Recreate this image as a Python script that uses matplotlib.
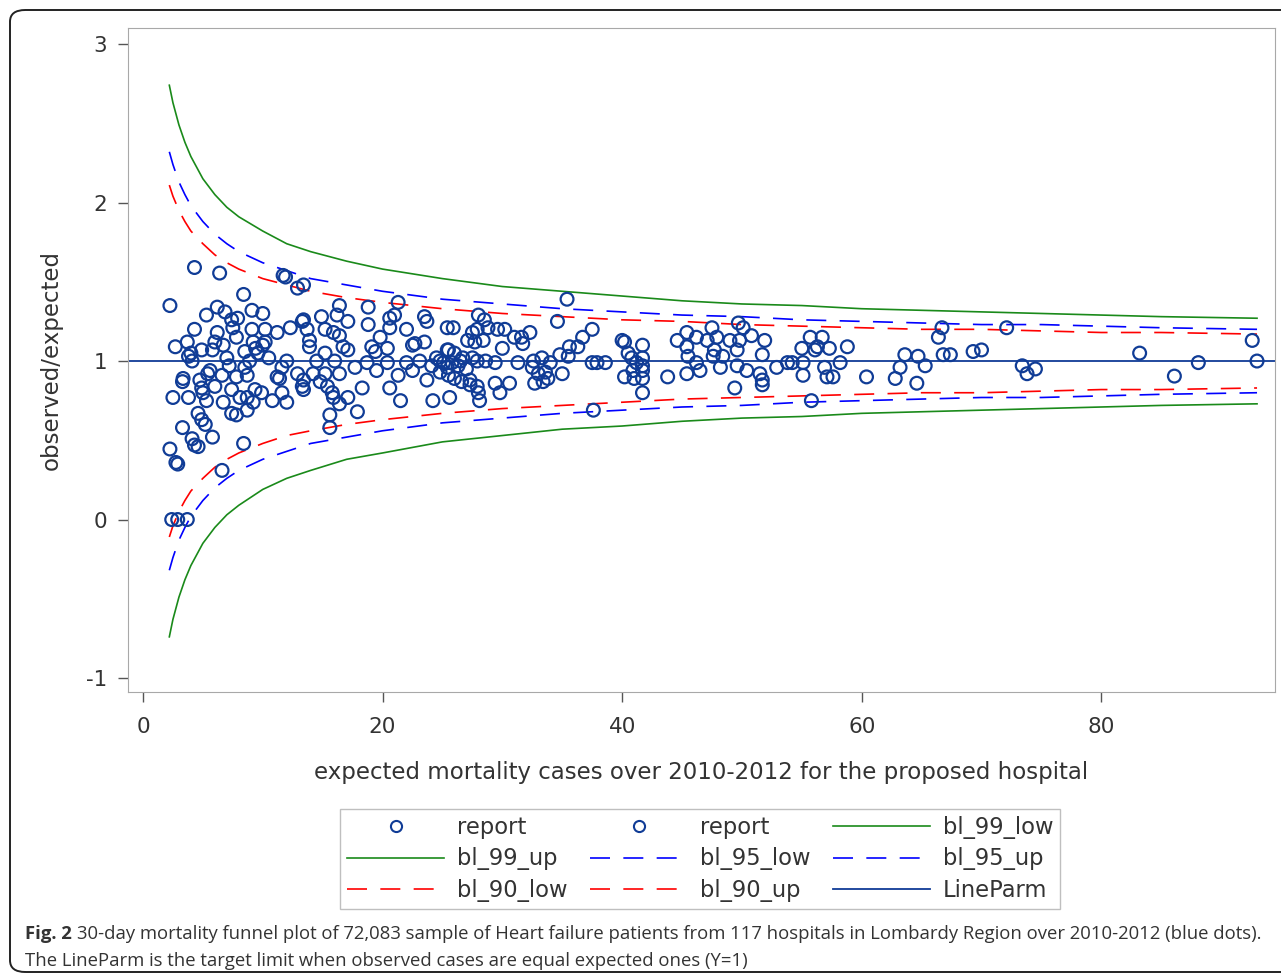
import matplotlib
matplotlib.use("Agg")
import matplotlib.pyplot as plt
from matplotlib.lines import Line2D
from matplotlib.patches import FancyBboxPatch

plt.rcParams["axes.unicode_minus"] = False

# expected cases (x) and observed/expected ratio (y) per point
x_obs = [2.25, 2.25, 2.4, 2.9, 3.7, 2.75, 2.9, 2.5, 2.7, 3.3, 3.35, 3.3, 3.7, 3.8, 4.1, 4.0, 3.8, 4.1, 4.3,
         4.3, 4.3, 4.6, 4.9, 5.2, 4.6, 4.75, 4.9, 5.0, 4.9,
         6.4, 8.4, 5.3, 6.2, 6.85, 7.4, 7.9, 9.1, 10.0, 6.2, 7.5, 9.1, 10.2, 11.2, 12.3, 5.8, 6.0, 6.7, 7.0,
         7.8, 8.5, 9.2, 9.6, 10.0, 10.2, 8.5, 8.7, 11.6, 11.2, 11.4, 12.9, 5.4, 6.6, 7.8, 5.3, 6.0, 6.7, 7.4,
         8.1, 8.7, 9.2, 9.35, 9.9, 10.8, 11.6, 12.0, 7.4, 7.8, 8.7, 5.8, 8.4, 6.6, 11.7, 11.9, 12.9, 13.4,
         5.6, 8.9, 9.4, 7.2, 10.5, 12.0,
         13.3, 13.3, 16.4, 18.8, 21.3, 14.9, 16.2, 17.1, 18.8, 20.6, 21.0, 23.5, 23.7, 13.4, 13.7, 15.2, 15.9,
         16.4, 16.7, 17.1, 19.8, 20.6, 22.0, 22.7, 23.5, 15.2, 13.9, 19.1, 19.4, 20.4, 17.7, 16.4, 15.2, 14.2,
         13.4, 13.4, 14.8, 15.4, 15.8, 15.9, 16.4, 17.1, 18.3, 17.9, 15.6, 15.6, 19.5, 20.6, 21.5, 21.3, 22.5,
         24.2, 23.7, 24.8, 25.1, 25.4, 25.4, 25.4, 22.0, 20.4, 18.7, 22.5, 23.1, 24.1, 24.5, 24.8, 14.5, 16.0,
         13.9,
         35.4, 34.6, 28.0, 28.5, 25.9, 27.5, 27.9, 28.8, 29.6, 30.2, 32.3, 27.1, 27.7, 28.4, 30.0, 31.0, 31.6,
         31.7, 25.5, 26.0, 26.7, 27.5, 27.9, 25.8, 26.3, 29.4, 31.3, 32.6, 33.3, 34.0, 34.8, 35.5, 35.6, 36.3,
         36.7, 37.5, 37.5, 32.5, 33.0, 33.6, 33.8, 32.7, 33.4, 35.0, 25.5, 26.0, 26.6, 27.3, 27.3, 25.6, 27.9,
         28.0, 28.1, 29.4, 29.8, 30.6, 37.6, 26.5, 27.0, 28.6,
         37.9, 38.6, 40.0, 40.2, 41.7, 40.5, 40.8, 41.2, 41.7, 41.7, 40.9, 41.7, 40.2, 41.0, 41.7, 41.7, 43.8,
         44.6, 45.4, 45.4, 46.2, 45.5, 45.4, 46.2, 46.5, 47.1, 47.5, 47.9, 47.7, 47.6, 48.4, 48.2, 49.0, 49.6,
         49.8, 49.7, 50.1, 50.8, 49.6, 50.4, 51.9, 51.7, 51.5, 51.7, 51.7, 52.9, 53.8, 49.4,
         54.2, 55.1, 55.0, 55.7, 56.7, 56.1, 56.3, 57.3, 58.2, 58.8, 56.9, 57.1, 57.6, 55.1, 55.8, 60.4, 62.8,
         63.2, 63.6, 64.7, 65.3, 64.6, 66.7, 66.4, 66.8, 67.4, 69.3, 70.0, 72.1, 73.4, 73.8, 74.5, 83.2, 86.1,
         88.1, 92.6, 93.0]
y_obs = [1.35, 0.445, 0.0, 0.0, 0.0, 0.36, 0.35, 0.77, 1.09, 0.87, 0.89, 0.58, 1.12, 1.03, 1.0, 1.05, 0.77, 0.51, 0.47,
         1.20, 1.59, 0.67, 0.63, 0.60, 0.46, 0.88, 0.83, 0.80, 1.07,
         1.555, 1.42, 1.29, 1.34, 1.31, 1.26, 1.27, 1.32, 1.30, 1.18, 1.21, 1.20, 1.20, 1.18, 1.21, 1.07, 1.12, 1.10, 1.02,
         1.15, 1.06, 1.12, 1.05, 1.10, 1.12, 0.96, 0.91, 0.96, 0.90, 0.89, 0.92, 0.92, 0.91, 0.90, 0.75, 0.84, 0.74, 0.82,
         0.77, 0.77, 0.74, 0.82, 0.80, 0.75, 0.80, 0.74, 0.67, 0.66, 0.69, 0.52, 0.48, 0.31, 1.54, 1.53, 1.46, 1.48,
         0.94, 1.0, 1.08, 0.97, 1.02, 1.0,
         1.25, 0.84, 1.35, 1.34, 1.37, 1.28, 1.29, 1.25, 1.23, 1.27, 1.29, 1.28, 1.25, 1.26, 1.20, 1.20, 1.18,
         1.16, 1.09, 1.07, 1.15, 1.21, 1.20, 1.11, 1.12, 1.05, 1.09, 1.09, 1.06, 1.08, 0.96, 0.92, 0.92, 0.92,
         0.88, 0.82, 0.87, 0.84, 0.80, 0.77, 0.73, 0.77, 0.83, 0.68, 0.66, 0.58, 0.94, 0.83, 0.75, 0.91, 0.94,
         0.75, 0.88, 1.0, 0.99, 0.96, 1.07, 1.21, 0.99, 0.99, 0.99, 1.10, 1.0, 0.97, 1.02, 0.93, 1.0, 1.0,
         1.13,
         1.39, 1.25, 1.29, 1.26, 1.21, 1.18, 1.20, 1.21, 1.20, 1.20, 1.18, 1.13, 1.12, 1.13, 1.08, 1.15, 1.15,
         1.11, 1.07, 1.05, 1.02, 1.02, 1.0, 0.99, 0.97, 0.99, 0.99, 1.0, 1.02, 0.99, 1.04, 1.03, 1.09, 1.09,
         1.15, 1.20, 0.99, 0.96, 0.92, 0.93, 0.89, 0.86, 0.87, 0.92, 0.91, 0.89, 0.87, 0.88, 0.85, 0.77, 0.84,
         0.80, 0.75, 0.86, 0.80, 0.86, 0.69, 1.0, 0.95, 1.0,
         0.99, 0.99, 1.13, 1.12, 1.10, 1.05, 1.02, 0.99, 0.97, 1.02, 0.94, 0.94, 0.90, 0.89, 0.89, 0.80, 0.90,
         1.13, 1.18, 1.09, 1.15, 1.03, 0.92, 0.99, 0.94, 1.13, 1.21, 1.15, 1.07, 1.03, 1.03, 0.96, 1.13, 1.07,
         1.13, 1.24, 1.21, 1.16, 0.97, 0.94, 1.13, 1.04, 0.92, 0.88, 0.85, 0.96, 0.99, 0.83,
         0.99, 0.99, 1.08, 1.15, 1.15, 1.07, 1.09, 1.08, 0.99, 1.09, 0.96, 0.90, 0.90, 0.91, 0.75, 0.90, 0.89,
         0.96, 1.04, 1.03, 0.97, 0.86, 1.21, 1.15, 1.04, 1.04, 1.06, 1.07, 1.21, 0.97, 0.92, 0.95, 1.05, 0.905,
         0.99, 1.13, 1.0]

# control limits
x_lim = [2.2, 2.5, 3, 3.5, 4, 5, 6, 7, 8, 10, 12, 14, 17, 20, 25, 30, 35, 40, 45, 50, 55, 60, 65, 70, 75, 80, 85, 93]
bl_99_up = [2.74, 2.63, 2.49, 2.38, 2.29, 2.15, 2.05, 1.97, 1.91, 1.82, 1.74, 1.69, 1.63, 1.58, 1.52, 1.47, 1.44,
            1.41, 1.38, 1.36, 1.35, 1.33, 1.32, 1.31, 1.30, 1.29, 1.28, 1.27]
bl_99_low = [-0.74, -0.63, -0.49, -0.38, -0.29, -0.15, -0.05, 0.03, 0.09, 0.19, 0.26, 0.31, 0.38, 0.42, 0.49, 0.53,
             0.57, 0.59, 0.62, 0.64, 0.65, 0.67, 0.68, 0.69, 0.70, 0.71, 0.72, 0.73]
bl_95_up = [2.32, 2.24, 2.13, 2.05, 1.98, 1.88, 1.80, 1.74, 1.69, 1.62, 1.57, 1.52, 1.48, 1.44, 1.39, 1.36, 1.33,
            1.31, 1.29, 1.28, 1.26, 1.25, 1.24, 1.23, 1.23, 1.22, 1.21, 1.20]
bl_95_low = [-0.32, -0.24, -0.13, -0.05, 0.02, 0.12, 0.20, 0.26, 0.31, 0.38, 0.43, 0.48, 0.52, 0.56, 0.61, 0.64,
             0.67, 0.69, 0.71, 0.72, 0.74, 0.75, 0.76, 0.77, 0.77, 0.78, 0.79, 0.80]
bl_90_up = [2.11, 2.04, 1.95, 1.88, 1.82, 1.74, 1.67, 1.62, 1.58, 1.52, 1.48, 1.44, 1.40, 1.37, 1.33, 1.30, 1.28,
            1.26, 1.25, 1.23, 1.22, 1.21, 1.20, 1.20, 1.19, 1.18, 1.18, 1.17]
bl_90_low = [-0.11, -0.04, 0.05, 0.12, 0.18, 0.26, 0.33, 0.38, 0.42, 0.48, 0.53, 0.56, 0.60, 0.63, 0.67, 0.70,
             0.72, 0.74, 0.76, 0.77, 0.78, 0.79, 0.80, 0.80, 0.81, 0.82, 0.82, 0.83]
target = 1.0

x_ticks = [0, 20, 40, 60, 80]
y_ticks = [-1, 0, 1, 2, 3]

navy = "#103c96"
green = "#1a8a1a"
txt = "#333333"

fig = plt.figure(figsize=(12.81, 9.76), dpi=100)

# outer rounded card
card = FancyBboxPatch((10 / 1281, 4 / 976), 1300 / 1281, 962 / 976, boxstyle="round,pad=0,rounding_size=0.012",
                      transform=fig.transFigure, fill=False, edgecolor="#222222", linewidth=1.4, clip_on=False)
fig.patches.append(card)

ax = fig.add_axes([128 / 1281, 1 - 692 / 976, (1275 - 128) / 1281, (692 - 28) / 976])

lw = 1.2
ax.plot(x_lim, bl_99_up, color=green, lw=lw)
ax.plot(x_lim, bl_99_low, color=green, lw=lw)
ax.plot(x_lim, bl_95_up, color="#0000ff", lw=lw, dashes=(12, 8))
ax.plot(x_lim, bl_95_low, color="#0000ff", lw=lw, dashes=(12, 8))
ax.plot(x_lim, bl_90_up, color="#ff0000", lw=lw, dashes=(12, 8))
ax.plot(x_lim, bl_90_low, color="#ff0000", lw=lw, dashes=(12, 8))
ax.axhline(target, color=navy, lw=1.3)
ax.scatter(x_obs, y_obs, s=85, facecolors="none", edgecolors=navy, linewidths=1.6, zorder=3)

ax.set_xlim(-1.25, 94.5)
ax.set_ylim(-1.088, 3.101)
ax.set_xticks(x_ticks)
ax.set_yticks(y_ticks)
for s in ax.spines.values():
    s.set_color("#a8a8a8")
ax.tick_params(axis="both", length=7, width=1, color="#555555", labelcolor=txt, labelsize=15.5)
ax.tick_params(axis="x", pad=11)
ax.tick_params(axis="y", pad=8)
ax.set_xlabel("expected mortality cases over 2010-2012 for the proposed hospital", fontsize=16.5, color=txt,
              labelpad=17)
ax.set_ylabel("observed/expected", fontsize=16.5, color=txt, labelpad=17)

# legend (matplotlib fills columns first)
mk = dict(marker="o", linestyle="none", markerfacecolor="none", markeredgecolor=navy, markersize=8,
          markeredgewidth=1.5)
h_rep = Line2D([], [], **mk)
h_99 = Line2D([], [], color=green, lw=lw)
h_95 = Line2D([], [], color="#0000ff", lw=lw, dashes=(12, 8))
h_90 = Line2D([], [], color="#ff0000", lw=lw, dashes=(12, 8))
h_lp = Line2D([], [], color=navy, lw=1.3)
handles = [h_rep, h_99, h_90, h_rep, h_95, h_90, h_99, h_95, h_lp]
labels = ["report", "bl_99_up", "bl_90_low", "report", "bl_95_low", "bl_90_up", "bl_99_low", "bl_95_up", "LineParm"]
leg = fig.legend(handles, labels, ncol=3, loc="center", bbox_to_anchor=(700 / 1281, 1 - 859 / 976),
                 fontsize=16.3, frameon=True, fancybox=False, edgecolor="#b0b0b0", handlelength=4.3,
                 handletextpad=0.55, columnspacing=1.0, labelspacing=0.38, borderpad=0.3)
for t in leg.get_texts():
    t.set_color(txt)

# caption
fig.canvas.draw()
r = fig.canvas.get_renderer()
cap_font = "Open Sans"
cap_size = 13.3
t1 = fig.text(25 / 1281, 1 - 934 / 976, "Fig. 2", fontsize=cap_size, fontweight="bold", family=cap_font,
              color=txt, va="center")
bb = t1.get_window_extent(r)
fig.text((bb.x1 + 5) / 1281, 1 - 934 / 976,
         "30-day mortality funnel plot of 72,083 sample of Heart failure patients from 117 hospitals in "
         "Lombardy Region over 2010-2012 (blue dots).",
         fontsize=cap_size, family=cap_font, color=txt, va="center")
fig.text(25 / 1281, 1 - 961 / 976,
         "The LineParm is the target limit when observed cases are equal expected ones (Y=1)",
         fontsize=cap_size, family=cap_font, color=txt, va="center")

fig.savefig("out.png", dpi=100)
